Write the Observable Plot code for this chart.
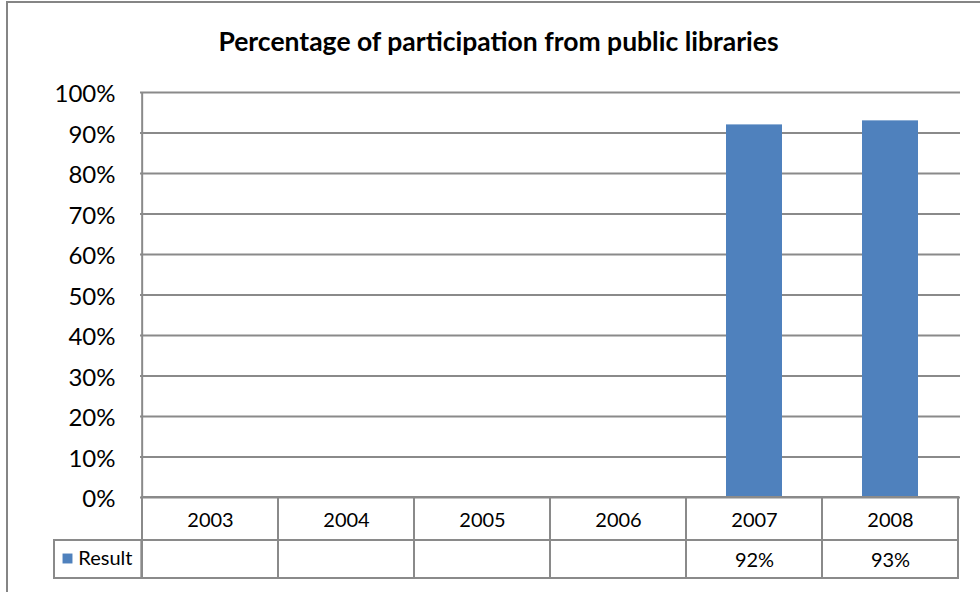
<!DOCTYPE html>
<html>
<head>
<meta charset="utf-8">
<script src="https://cdn.jsdelivr.net/npm/d3@7"></script>
<script src="https://cdn.jsdelivr.net/npm/@observablehq/plot@0.6"></script>
<style>
  html, body { margin: 0; padding: 0; background: #fff; overflow: hidden; }
  #wrap { position: relative; width: 980px; height: 592px; }
  #border { position: absolute; left: 6px; top: 1px; width: 1200px; height: 800px;
            border-left: 2px solid #858585; border-top: 2px solid #858585; pointer-events: none; }
  svg { font-family: Lato, "Open Sans", sans-serif; }
</style>
</head>
<body>
<div id="wrap"><div id="border"></div></div>
<script>
const title = "Percentage of participation from public libraries";
const years = ["2003", "2004", "2005", "2006", "2007", "2008"];
const results = [null, null, null, null, 0.92, 0.93];
const seriesName = "Result";
const yTicks = [0, 0.1, 0.2, 0.3, 0.4, 0.5, 0.6, 0.7, 0.8, 0.9, 1.0];

const data = years.map((year, i) => ({year, value: results[i]}));
const withValue = data.filter(d => d.value != null);

const W = 980, H = 592, mL = 140, mR = 20, mT = 92, mB = 95;
const bw = (W - mL - mR) / years.length;
const pct = d3.format(".0%");
const grid = "#8a8a8a";
const headH = 43, rowH = 38;

const chart = Plot.plot({
  width: W, height: H,
  marginLeft: mL, marginRight: mR, marginTop: mT, marginBottom: mB,
  style: {background: "transparent", fontFamily: "Lato, sans-serif", color: "#000"},
  x: {domain: years, padding: 0, axis: null},
  y: {domain: [0, 1], axis: null},
  marks: [
    Plot.ruleY(yTicks, {stroke: grid, strokeWidth: 2}),
    Plot.ruleX([years[0]], {x: d => d, y1: 0, y2: 1, dx: -bw / 2, stroke: grid, strokeWidth: 2}),
    Plot.barY(withValue, {x: "year", y: "value", fill: "#4f81bd", insetLeft: 40, insetRight: 40}),
    // data table: header row
    Plot.barY(data, {x: "year", y1: 0, y2: 0, insetBottom: -headH, fill: "none", stroke: grid, strokeWidth: 2}),
    // data table: values row
    Plot.barY(data, {x: "year", y1: 0, y2: 0, insetTop: headH, insetBottom: -(headH + rowH), fill: "none", stroke: grid, strokeWidth: 2}),
    // legend cell
    Plot.barY([seriesName], {x: () => years[0], y1: 0, y2: 0, insetTop: headH, insetBottom: -(headH + rowH), insetLeft: -88, insetRight: bw, fill: "none", stroke: grid, strokeWidth: 2}),
    Plot.dot([seriesName], {frameAnchor: "bottom-left", dx: -73, dy: headH + 18, symbol: "square", r: 5.6, fill: "#4f81bd", stroke: "none"}),
    Plot.text([seriesName], {frameAnchor: "bottom-left", lineAnchor: "middle", dx: -8, dy: headH + 18, textAnchor: "end", text: d => d, fontSize: 20, fill: "#000"}),
    Plot.text(data, {x: "year", frameAnchor: "bottom", lineAnchor: "middle", dy: 23, text: "year", fontSize: 20, fill: "#000"}),
    Plot.text(withValue, {x: "year", frameAnchor: "bottom", lineAnchor: "middle", dy: headH + 20, text: d => pct(d.value), fontSize: 20, fill: "#000"}),
    // y tick labels
    Plot.text(yTicks, {y: d => d, frameAnchor: "left", lineAnchor: "middle", dx: -25, dy: 2, textAnchor: "end", text: d => pct(d), fontSize: 24, fill: "#000"}),
    // title
    Plot.text([title], {frameAnchor: "top", lineAnchor: "middle", dx: -52, dy: -50, text: d => d, fontSize: 26.5, fontWeight: "bold", fill: "#000"})
  ]
});
chart.style.position = "absolute";
chart.style.left = "0px";
chart.style.top = "0px";
document.getElementById("wrap").prepend(chart);
</script>
</body>
</html>
